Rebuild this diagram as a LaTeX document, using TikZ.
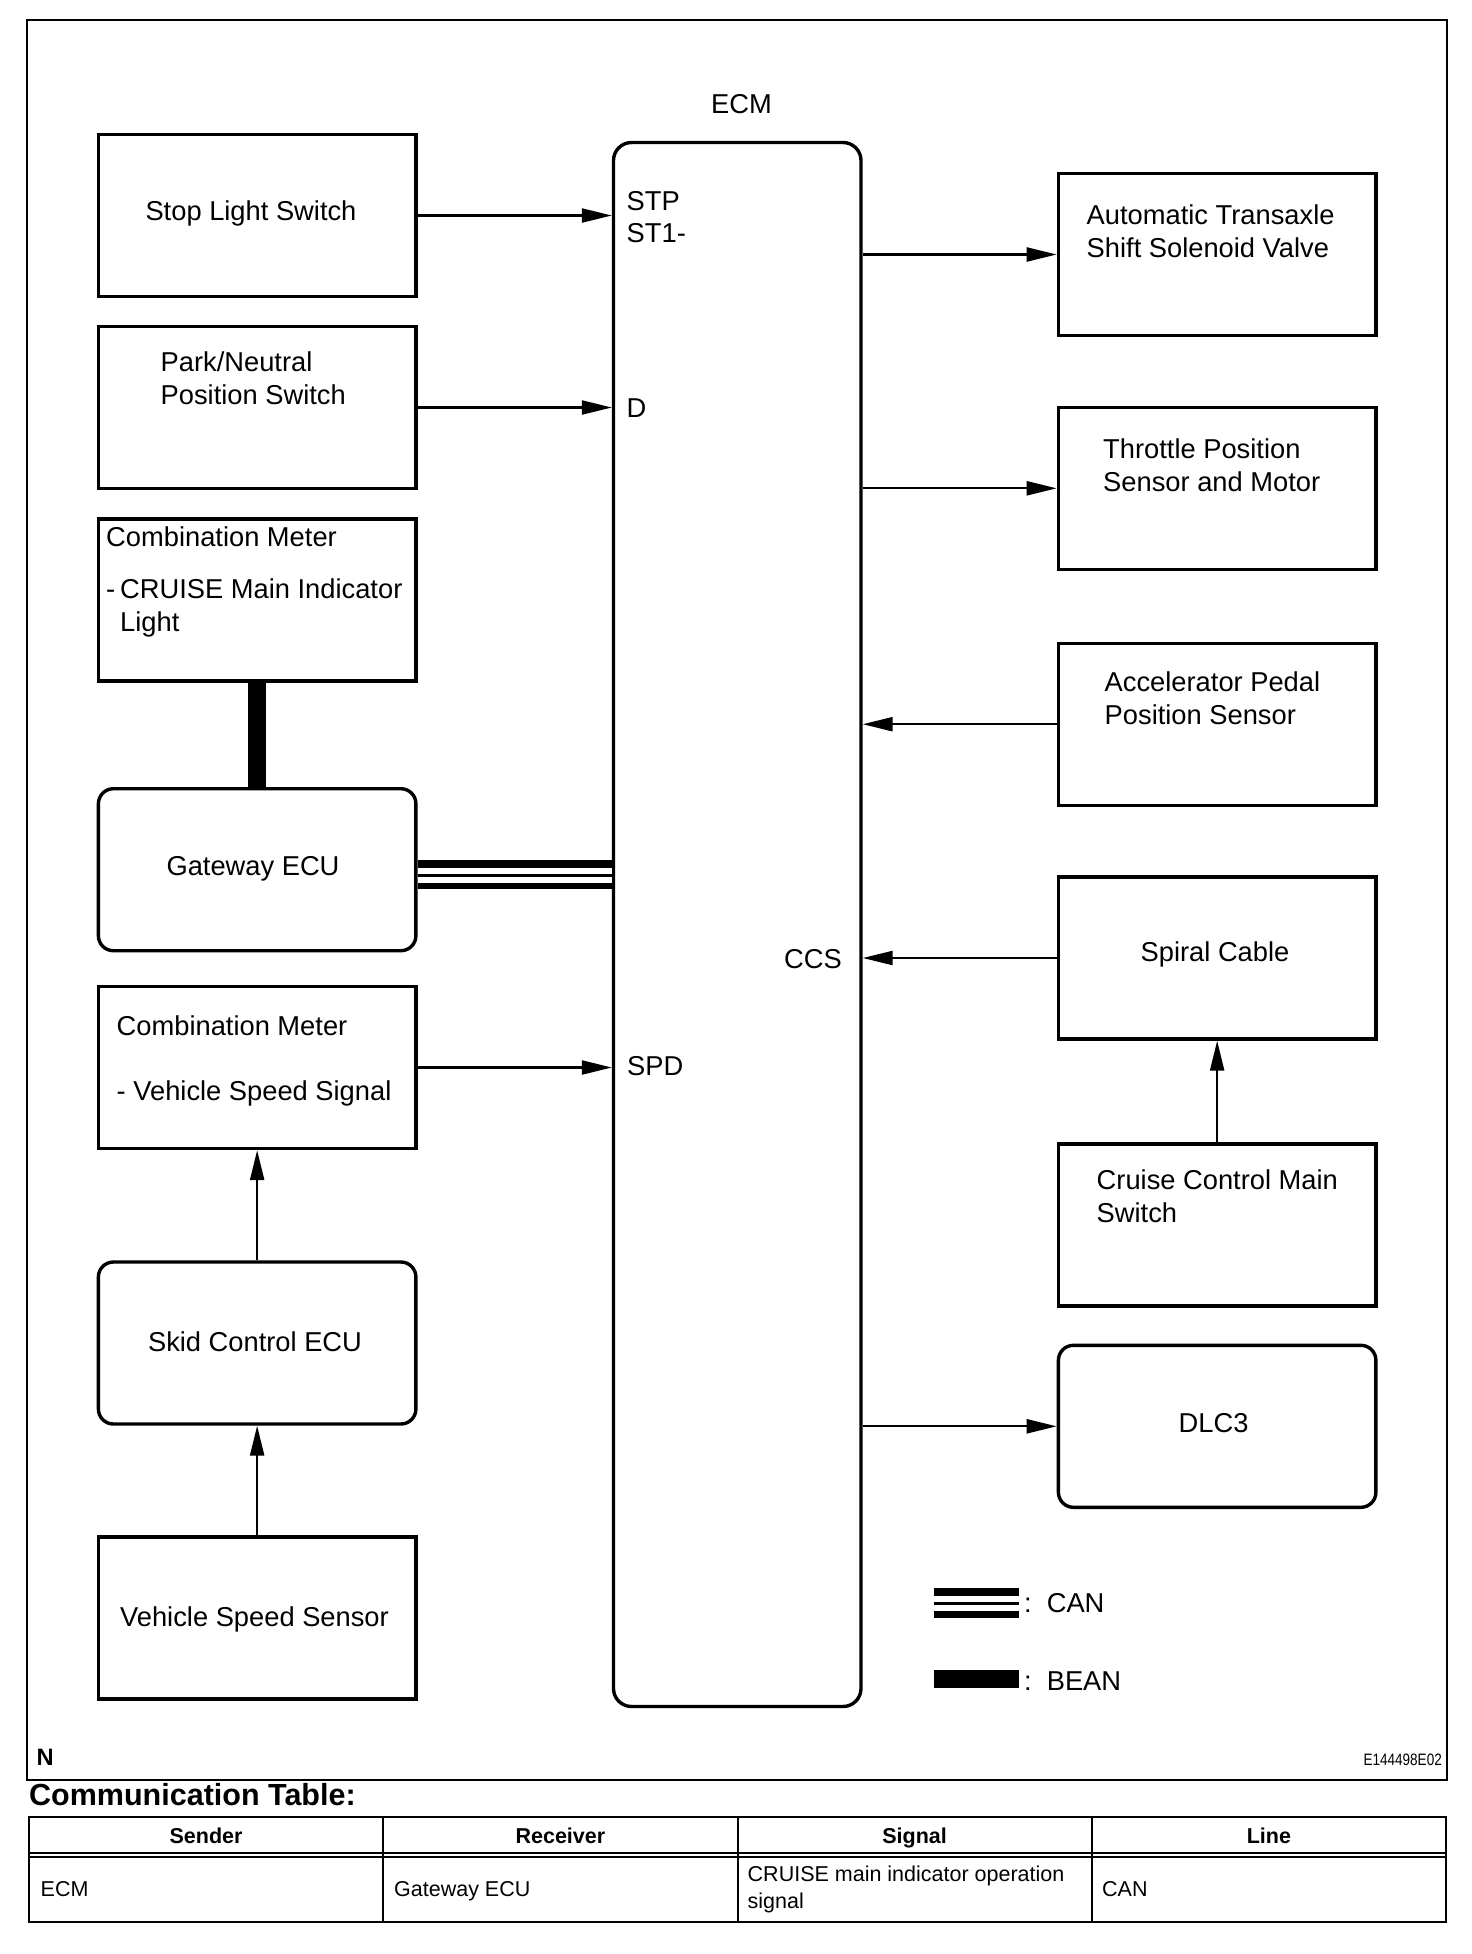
\documentclass[tikz,border=0pt]{standalone}
\usepackage{fontspec}
\setmainfont{Liberation Sans}
\usepackage{graphicx}
\usetikzlibrary{arrows.meta}
\begin{document}
\begin{tikzpicture}[x=1pt,y=-1pt,
  blk/.style={draw, line width=3.4pt, minimum width=317.5pt, minimum height=162pt, inner sep=0pt},
  rblk/.style={blk, rounded corners=15pt},
  lbl/.style={inner sep=0pt, font=\fontsize{27.3}{33}\selectfont, align=left},
  conn/.style={line width=2.3pt, -{Triangle[length=30pt,width=14pt]}},
  beanline/.style={line width=18pt},
  canbase/.style={line width=29.4pt},
  canwhite/.style={white, line width=6pt},
  hdr/.style={inner sep=0pt, font=\fontsize{21.5}{26.6}\selectfont\bfseries},
  cell/.style={inner sep=0pt, font=\fontsize{21.5}{26.6}\selectfont, align=left},
  frameline/.style={line width=2pt},
  tline/.style={line width=2pt}
]
\useasboundingbox (0,0) rectangle (1472,1954);
\fill[white] (0,0) rectangle (1472,1954);

% outer frame
\draw[frameline] (27,20) rectangle (1447,1780);

% ECM
\node[draw, line width=3.4pt, rounded corners=18pt, minimum width=247.5pt, minimum height=1564pt, inner sep=0pt] (ecm) at (737.25,924.5) {};
\node[lbl, anchor=base] (ecmlbl) at (741.5,113) {ECM};
\node[lbl, anchor=base west] (pstp) at (626.5,210) {STP};
\node[lbl, anchor=base west] (pst1) at (626.5,242) {ST1-};
\node[lbl, anchor=base west] (pd) at (626.5,417) {D};
\node[lbl, anchor=base west] (pspd) at (627,1075) {SPD};
\node[lbl, anchor=base east] (pccs) at (842,968.3) {CCS};

% left column
\node[blk] (stop) at (257.15,215.5) {};
\node[lbl, anchor=base] (stopt) at (251,220) {Stop Light Switch};

\node[blk] (pnp) at (257.15,407.5) {};
\node[lbl, anchor=base west] (pnpt) at (160.5,404) {Park/Neutral\\Position Switch};

\node[blk] (cm1) at (257.15,600) {};
\node[lbl, anchor=base west] (cm1a) at (106,546.7) {Combination Meter};
\node[lbl, anchor=base west] (cm1d) at (106,598.3) {-};
\node[lbl, anchor=base west] (cm1b) at (120,631.5) {CRUISE Main Indicator\\Light};

\node[rblk] (gw) at (257.15,869.7) {};
\node[lbl, anchor=base] (gwt) at (253,875) {Gateway ECU};

\node[blk] (cm2) at (257.15,1067.5) {};
\node[lbl, anchor=base west] (cm2a) at (116.5,1035) {Combination Meter};
\node[lbl, anchor=base west] (cm2b) at (116.5,1100) {- Vehicle Speed Signal};

\node[rblk] (skid) at (257.15,1343) {};
\node[lbl, anchor=base] (skidt) at (255,1351) {Skid Control ECU};

\node[blk] (vss) at (257.15,1618) {};
\node[lbl, anchor=base] (vsst) at (254.5,1626.7) {Vehicle Speed Sensor};

% right column
\node[blk] (ats) at (1217.15,254.5) {};
\node[lbl, anchor=base west] (atst) at (1086.5,257.5) {Automatic Transaxle\\Shift Solenoid Valve};

\node[blk] (thr) at (1217.15,488.3) {};
\node[lbl, anchor=base west] (thrt) at (1103,491) {Throttle Position\\Sensor and Motor};

\node[blk] (acc) at (1217.15,724.2) {};
\node[lbl, anchor=base west] (acct) at (1104.5,724) {Accelerator Pedal\\Position Sensor};

\node[blk] (spc) at (1217.15,958) {};
\node[lbl, anchor=base] (spct) at (1215,961.7) {Spiral Cable};

\node[blk] (ccm) at (1217.15,1225) {};
\node[lbl, anchor=base west] (ccmt) at (1096.5,1222.5) {Cruise Control Main\\Switch};

\node[rblk] (dlc) at (1217.15,1426.3) {};
\node[lbl, anchor=base] (dlct) at (1213.6,1432.7) {DLC3};

% connectors
\draw[conn] (stop.east) -- (stop.east -| ecm.west);
\draw[conn] (pnp.east) -- (pnp.east -| ecm.west);
\draw[conn] (cm2.east) -- (cm2.east -| ecm.west);
\draw[conn] (skid.north) -- (cm2.south);
\draw[conn] (vss.north) -- (skid.south);
\draw[conn] (ats.west -| ecm.east) -- (ats.west);
\draw[conn] (thr.west -| ecm.east) -- (thr.west);
\draw[conn] (acc.west) -- (acc.west -| ecm.east);
\draw[conn] (spc.west) -- (spc.west -| ecm.east);
\draw[conn] (ccm.north) -- (spc.south);
\draw[conn] (dlc.west -| ecm.east) -- (dlc.west);

% BEAN
\draw[beanline] (cm1.south) -- (gw.north);

% CAN
\coordinate (canA) at ([yshift=-5pt]gw.east);
\coordinate (canB) at (canA -| ecm.west);
\draw[canbase] (canA) -- (canB);
\draw[canwhite] ([yshift=3.6pt]canA) -- ([yshift=3.6pt]canB);
\draw[canwhite] ([yshift=-4.8pt]canA) -- ([yshift=-4.8pt]canB);

% legend
\coordinate (lgA) at (934,1603);
\coordinate (lgB) at (1018.5,1603);
\draw[canbase] (lgA) -- (lgB);
\draw[canwhite] ([yshift=3.6pt]lgA) -- ([yshift=3.6pt]lgB);
\draw[canwhite] ([yshift=-4.8pt]lgA) -- ([yshift=-4.8pt]lgB);
\node[lbl, anchor=base west] (lgcan) at (1024,1612.3) {:\hspace{0.55em}CAN};
\fill (934,1670) rectangle (1018.5,1688.3);
\node[lbl, anchor=base west] (lgbean) at (1024,1690.7) {:\hspace{0.55em}BEAN};

% corner marks
\node[inner sep=0pt, anchor=base west, font=\fontsize{23.7}{28}\selectfont\bfseries] (nmark) at (36.5,1765) {N};
\node[inner sep=0pt, anchor=base east, font=\fontsize{16.5}{20}\selectfont] (fig) at (1442,1765) {\scalebox{0.82}[1]{E144498E02}};

% communication table
\node[inner sep=0pt, anchor=base west, font=\fontsize{30.5}{36}\selectfont\bfseries] (ttitle) at (29,1805.7) {Communication Table:};
\draw[tline] (29,1817.3) rectangle (1446,1922.3);
\draw[tline] (383.25,1817.3) -- (383.25,1922.3);
\draw[tline] (737.5,1817.3) -- (737.5,1922.3);
\draw[tline] (1091.75,1817.3) -- (1091.75,1922.3);
\draw[tline] (29,1852.5) -- (1446,1852.5);
\draw[tline] (29,1856.5) -- (1446,1856.5);
\node[hdr, anchor=base] (h1) at (206.1,1843.3) {Sender};
\node[hdr, anchor=base] (h2) at (560.4,1843.3) {Receiver};
\node[hdr, anchor=base] (h3) at (914.6,1843.3) {Signal};
\node[hdr, anchor=base] (h4) at (1268.9,1843.3) {Line};
\node[cell, anchor=base west] (c1) at (40.5,1896.7) {ECM};
\node[cell, anchor=base west] (c2) at (394,1896.7) {Gateway ECU};
\node[cell, anchor=base west] (c3) at (747.5,1908.3) {CRUISE main indicator operation\\signal};
\node[cell, anchor=base west] (c4) at (1102,1896.7) {CAN};
\end{tikzpicture}
\end{document}
